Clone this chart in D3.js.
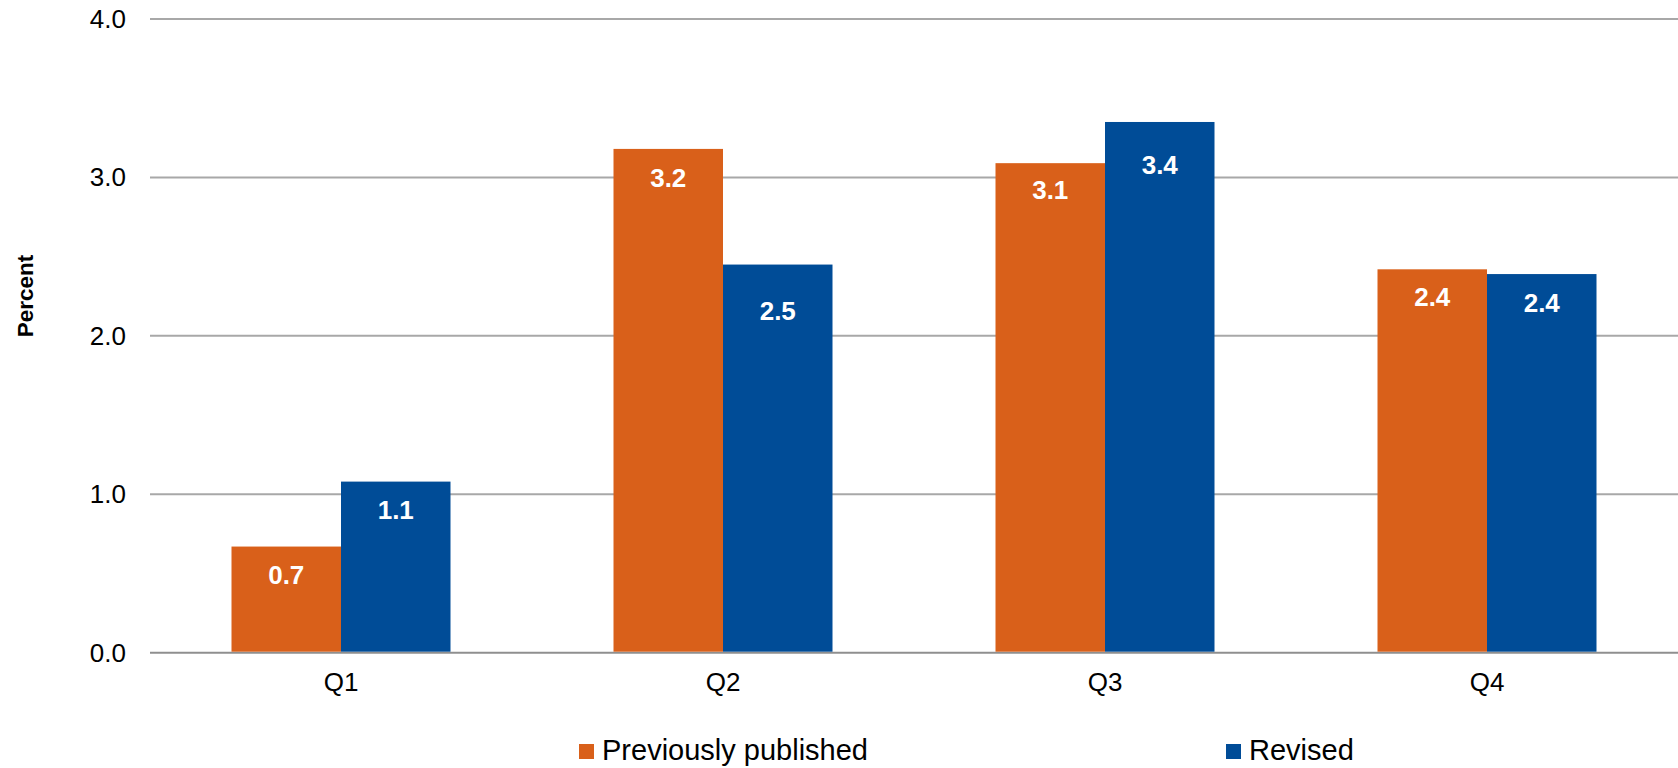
<!DOCTYPE html>
<html><head><meta charset="utf-8">
<script src="https://cdn.jsdelivr.net/npm/d3@7"></script>
<style>
html,body{margin:0;padding:0;background:#fff;}
svg{display:block;}
text{font-family:"Liberation Sans",Arial,sans-serif;}
</style></head>
<body>
<script>
const categories = ["Q1","Q2","Q3","Q4"];
const seriesNames = ["Previously published","Revised"];
const previouslyPublished = [0.67, 3.18, 3.09, 2.42];
const revised = [1.08, 2.45, 3.35, 2.39];
const valueLabels = [["0.7","1.1"],["3.2","2.5"],["3.1","3.4"],["2.4","2.4"]];
const yTicks = [0, 1, 2, 3, 4];

const labelDy = [[28,28],[29,46],[27,43],[28,29]];
const colors = ["#d9601a","#004c97"];

const W = 1678, H = 768;
const svg = d3.select("body").append("svg").attr("width", W).attr("height", H);

const x0 = d3.scaleBand().domain(categories).range([150, 1678]).paddingInner(0.4267).paddingOuter(0.21335);
const x1 = d3.scaleBand().domain(seriesNames).range([0, x0.bandwidth()]);
const y = d3.scaleLinear().domain([0, 4]).range([652.7, 19]);

// gridlines
const grid = svg.append("g");
grid.selectAll("line").data(yTicks).join("line")
  .attr("x1", 150).attr("x2", 1678)
  .attr("y1", d => y(d)).attr("y2", d => y(d))
  .attr("stroke", d => d === 0 ? "#8f8f8f" : "#a8a8a8").attr("stroke-width", 2);

// y axis labels
const yAxis = d3.axisLeft(y).tickValues(yTicks).tickFormat(d3.format(".1f")).tickSize(0).tickPadding(0);
const ya = svg.append("g").attr("transform", "translate(126,0)").call(yAxis);
ya.select(".domain").remove();
ya.selectAll("text").attr("font-size", 26).attr("fill", "#000").attr("font-family", "'Liberation Sans',Arial,sans-serif");

// x axis labels
const xAxis = d3.axisBottom(x0).tickSize(0).tickPadding(0);
const xa = svg.append("g").attr("transform", "translate(0,673)").call(xAxis);
xa.select(".domain").remove();
xa.selectAll("text").attr("font-size", 26).attr("fill", "#000").attr("font-family", "'Liberation Sans',Arial,sans-serif");

// bars
const rows = categories.map((c, i) => ({cat: c, i, vals: [previouslyPublished[i], revised[i]]}));
const groups = svg.append("g").selectAll("g").data(rows).join("g")
  .attr("transform", d => `translate(${x0(d.cat)},0)`);
groups.selectAll("rect").data(d => d.vals.map((v, j) => ({v, j, i: d.i}))).join("rect")
  .attr("x", d => x1(seriesNames[d.j]))
  .attr("width", x1.bandwidth())
  .attr("y", d => y(d.v))
  .attr("height", d => y(0) - y(d.v) - 1)
  .attr("fill", d => colors[d.j]);
groups.selectAll("text").data(d => d.vals.map((v, j) => ({v, j, i: d.i}))).join("text")
  .attr("x", d => x1(seriesNames[d.j]) + x1.bandwidth() / 2)
  .attr("y", d => y(d.v) + labelDy[d.i][d.j])
  .attr("dy", "0.35em")
  .attr("text-anchor", "middle")
  .attr("font-size", 26).attr("font-weight", "bold").attr("fill", "#fff")
  .text(d => valueLabels[d.i][d.j]);

// y title
svg.append("text")
  .attr("transform", "translate(25,296) rotate(-90)")
  .attr("text-anchor", "middle").attr("dy", "0.35em")
  .attr("font-family", "'Open Sans',sans-serif").attr("font-weight", "bold")
  .attr("font-size", 22.5).attr("fill", "#000")
  .text("Percent");

// legend
const legX = [579, 1226];
const leg = svg.append("g").selectAll("g").data(seriesNames).join("g")
  .attr("transform", (d, i) => `translate(${legX[i]},744)`);
leg.append("rect").attr("width", 15).attr("height", 15).attr("fill", (d, i) => colors[i]);
leg.append("text").attr("x", 23).attr("y", 15.5).attr("font-size", 29).attr("fill", "#000").text(d => d);
</script>
</body></html>
